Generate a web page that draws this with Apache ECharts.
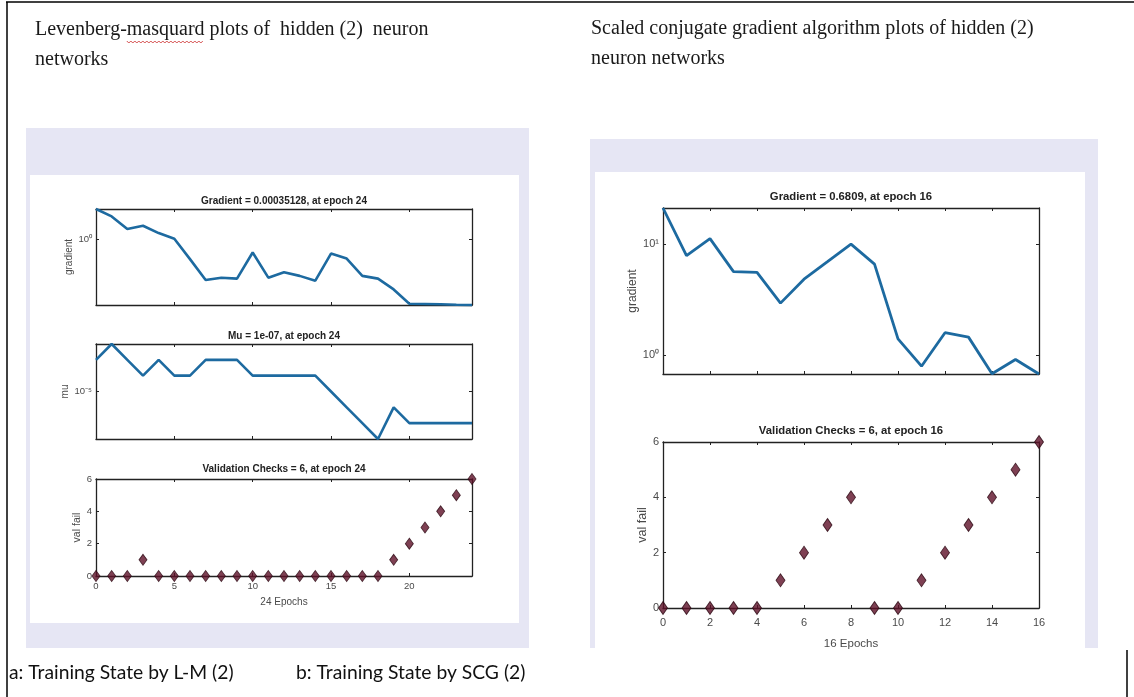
<!DOCTYPE html>
<html><head><meta charset="utf-8">
<script src="https://cdn.jsdelivr.net/npm/echarts@6/dist/echarts.min.js"></script>
<style>html,body{margin:0;padding:0;background:#fff}#c{width:1134px;height:697px}</style>
</head><body><div id="c"></div>
<script>
// ---- data ----
const lmEpochs = [0,1,2,3,4,5,6,7,8,9,10,11,12,13,14,15,16,17,18,19,20,21,22,23,24];
const lmGradient = [37.8,15.4,3.36,5.0,2.07,1.04,0.089,0.0072,0.0095,0.0085,0.199,0.0095,0.0184,0.0118,0.0066,0.175,0.0955,0.0118,0.0085,0.0023,0.00041,0.000398,0.000382,0.000362,0.00035128];
const lmMu = [1e-3,1e-2,1e-3,1e-4,1e-3,1e-4,1e-4,1e-3,1e-3,1e-3,1e-4,1e-4,1e-4,1e-4,1e-4,1e-5,1e-6,1e-7,1e-8,1e-6,1e-7,1e-7,1e-7,1e-7,1e-7];
const lmValFail = [0,0,0,1,0,0,0,0,0,0,0,0,0,0,0,0,0,0,0,1,2,3,4,5,6];
const scgEpochs = [0,1,2,3,4,5,6,7,8,9,10,11,12,13,14,15,16];
const scgGradient = [21.1,7.87,11.2,5.66,5.58,2.95,4.84,6.95,10.0,6.6,1.41,0.80,1.60,1.46,0.684,0.92,0.6809];
const scgValFail = [0,0,0,0,0,1,2,3,4,0,0,1,2,3,4,5,6];
const lmXTicks = [0,5,10,15,20];
const scgXTicks = [0,2,4,6,8,10,12,14,16];
const valTicks = [0,2,4,6];
const lmGradTicks = [1];
const lmMuTicks = [1e-5];
const scgGradTicks = [1,10];
const titles = {
  lmHeader: ['Levenberg-masquard plots of  hidden (2)  neuron', 'networks'],
  scgHeader: ['Scaled conjugate gradient algorithm plots of hidden (2)', 'neuron networks'],
  lmGrad: 'Gradient = 0.00035128, at epoch 24',
  lmMu: 'Mu = 1e-07, at epoch 24',
  lmVal: 'Validation Checks = 6, at epoch 24',
  scgGrad: 'Gradient = 0.6809, at epoch 16',
  scgVal: 'Validation Checks = 6, at epoch 16',
  capA: 'a: Training State by L-M (2)',
  capB: 'b: Training State by SCG (2)'
};

// ---- styles / layout ----
const AX = '#222222', LBL = '#4a4a4a', LINE = '#1d6aa0', MK = '#5e1028';
const grids = [
  {left: 96, top: 209, width: 376, height: 96},   // LM gradient
  {left: 96, top: 344, width: 376, height: 95},   // LM mu
  {left: 96, top: 479, width: 376, height: 97},   // LM val
  {left: 663, top: 208, width: 376, height: 166}, // SCG gradient
  {left: 663, top: 442, width: 376, height: 166}  // SCG val
];
const supMap = {'0':'⁰','1':'¹','2':'²','3':'³','4':'⁴','5':'⁵','6':'⁶','7':'⁷','8':'⁸','9':'⁹','-':'⁻'};
function powLabel(v) {
  const e = Math.round(Math.log10(v));
  return '10' + String(e).split('').map(c => supMap[c]).join('');
}
const xAxes = [], yAxes = [];
function addAxes(gi, xmin, xmax, xticks, showX, ycfg, fs, xname, xmargin, xgap) {
  const tick = {show: true, inside: true, length: 3, lineStyle: {color: AX, width: 1}, customValues: xticks};
  const line = {show: true, onZero: false, lineStyle: {color: AX, width: 1.3}};
  xAxes.push({gridIndex: gi, type: 'value', position: 'bottom', min: xmin, max: xmax,
    axisLine: line, axisTick: tick, splitLine: {show: false},
    axisLabel: {show: showX, customValues: xticks, color: LBL, fontSize: fs, fontFamily: 'Liberation Sans', margin: xmargin || 5},
    name: xname || '', nameLocation: 'middle', nameGap: xgap || 19,
    nameTextStyle: {color: LBL, fontSize: fs + 0.5, fontFamily: 'Liberation Sans'}});
  xAxes.push({gridIndex: gi, type: 'value', position: 'top', min: xmin, max: xmax,
    axisLine: line, axisTick: tick, splitLine: {show: false}, axisLabel: {show: false}});
  const ytick = {show: true, inside: true, length: 3, lineStyle: {color: AX, width: 1}, customValues: ycfg.ticks};
  const base = {gridIndex: gi, type: ycfg.type, min: ycfg.min, max: ycfg.max,
    axisLine: line, axisTick: ytick, splitLine: {show: false}};
  if (ycfg.type === 'log') base.logBase = 10;
  yAxes.push(Object.assign({}, base, {position: 'left',
    axisLabel: {show: true, customValues: ycfg.ticks, color: LBL, fontSize: fs, fontFamily: 'Liberation Sans', margin: 4,
      formatter: ycfg.type === 'log' ? powLabel : (v => String(v))},
    name: ycfg.name, nameLocation: 'middle', nameGap: ycfg.gap,
    nameTextStyle: {color: LBL, fontSize: ycfg.nfs, fontFamily: 'Liberation Sans'}}));
  yAxes.push(Object.assign({}, base, {position: 'right', axisLabel: {show: false}}));
}
addAxes(0, 0, 24, lmXTicks, false, {type: 'log', min: 0.00035128, max: 37.8, ticks: lmGradTicks, name: 'gradient', gap: 18, nfs: 10}, 9.5);
addAxes(1, 0, 24, lmXTicks, false, {type: 'log', min: 1e-8, max: 1e-2, ticks: lmMuTicks, name: 'mu', gap: 25, nfs: 10}, 9.5);
addAxes(2, 0, 24, lmXTicks, true, {type: 'value', min: 0, max: 6, ticks: valTicks, name: 'val fail', gap: 10, nfs: 10.5}, 9.5, '24 Epochs', 5, 21);
addAxes(3, 0, 16, scgXTicks, false, {type: 'log', min: 0.6809, max: 21.1, ticks: scgGradTicks, name: 'gradient', gap: 18, nfs: 12}, 11);
addAxes(4, 0, 16, scgXTicks, true, {type: 'value', min: 0, max: 6, ticks: valTicks, name: 'val fail', gap: 10, nfs: 12.5}, 11, '16 Epochs', 9, 30);

function pairs(xs, ys) { return xs.map((x, i) => [x, ys[i]]); }
const lineSeries = (gi, xs, ys, w) => ({type: 'line', xAxisIndex: 2 * gi, yAxisIndex: 2 * gi, data: pairs(xs, ys),
  showSymbol: false, clip: false, lineStyle: {color: LINE, width: w}, z: 5, animation: false, silent: true});
const markSeries = (gi, xs, ys, size) => ({type: 'scatter', xAxisIndex: 2 * gi, yAxisIndex: 2 * gi, data: pairs(xs, ys),
  symbol: 'diamond', symbolSize: size, clip: false,
  itemStyle: {color: MK, borderColor: '#2a0812', borderWidth: 0.9}, z: 6, animation: false, silent: true});

function txt(x, y, text, font, align, color) {
  return {type: 'text', x: x, y: y, z: 50, silent: true,
    style: {text: text, font: font, fill: color || '#222', align: align || 'center', verticalAlign: 'middle'}};
}
const serif = '20px "Liberation Serif"';

// spell-check squiggle under the word "masquard" (measured from the header text)
const mctx = document.createElement('canvas').getContext('2d');
mctx.font = serif;
const sqStart = 35 + mctx.measureText('Levenberg-').width;
const sqEnd = 35 + mctx.measureText('Levenberg-masquard').width;
const squigglePts = [];
for (let x = sqStart, k = 0; x <= sqEnd; x += 2, k++) squigglePts.push([x, k % 2 ? 43 : 41]);

const graphics = [
  // panels
  {type: 'rect', shape: {x: 26, y: 128, width: 503, height: 520}, style: {fill: '#e6e6f4'}, z: -20, silent: true},
  {type: 'rect', shape: {x: 30, y: 175, width: 489, height: 448}, style: {fill: '#ffffff'}, z: -19, silent: true},
  {type: 'rect', shape: {x: 590, y: 139, width: 508, height: 509}, style: {fill: '#e6e6f4'}, z: -20, silent: true},
  {type: 'rect', shape: {x: 595, y: 172, width: 490, height: 476}, style: {fill: '#ffffff'}, z: -19, silent: true},
  // page borders
  {type: 'line', shape: {x1: 6, y1: 2, x2: 1134, y2: 2}, style: {stroke: '#000', lineWidth: 1.5}, z: 40, silent: true},
  {type: 'line', shape: {x1: 7, y1: 2, x2: 7, y2: 697}, style: {stroke: '#000', lineWidth: 1.5}, z: 40, silent: true},
  {type: 'line', shape: {x1: 1127, y1: 650, x2: 1127, y2: 697}, style: {stroke: '#000', lineWidth: 1.5}, z: 40, silent: true},
  // headers
  txt(35, 30, titles.lmHeader[0], serif, 'left', '#1a1a1a'),
  txt(35, 60, titles.lmHeader[1], serif, 'left', '#1a1a1a'),
  txt(591, 29, titles.scgHeader[0], serif, 'left', '#1a1a1a'),
  txt(591, 59, titles.scgHeader[1], serif, 'left', '#1a1a1a'),
  {type: 'polyline', shape: {points: squigglePts}, style: {stroke: '#d04040', lineWidth: 0.9, fill: null}, z: 41, silent: true},
  // subplot titles
  txt(284, 201, titles.lmGrad, 'bold 10px "Liberation Sans"'),
  txt(284, 336, titles.lmMu, 'bold 10px "Liberation Sans"'),
  txt(284, 469, titles.lmVal, 'bold 10px "Liberation Sans"'),
  txt(851, 197, titles.scgGrad, 'bold 11.3px "Liberation Sans"'),
  txt(851, 431, titles.scgVal, 'bold 11.3px "Liberation Sans"'),
  // captions
  txt(9, 673, titles.capA, '19.3px Lato', 'left', '#111'),
  txt(296, 673, titles.capB, '19.3px Lato', 'left', '#111')
];

const chart = echarts.init(document.getElementById('c'), null, {renderer: 'canvas'});
chart.setOption({
  animation: false,
  backgroundColor: '#ffffff',
  grid: grids.map(g => Object.assign({show: false, containLabel: false, outerBoundsMode: 'none'}, g)),
  xAxis: xAxes,
  yAxis: yAxes,
  series: [
    lineSeries(0, lmEpochs, lmGradient, 2.6),
    lineSeries(1, lmEpochs, lmMu, 2.6),
    markSeries(2, lmEpochs, lmValFail, [8, 11]),
    lineSeries(3, scgEpochs, scgGradient, 2.8),
    markSeries(4, scgEpochs, scgValFail, [9, 13])
  ],
  graphic: {elements: graphics}
});
</script></body></html>
